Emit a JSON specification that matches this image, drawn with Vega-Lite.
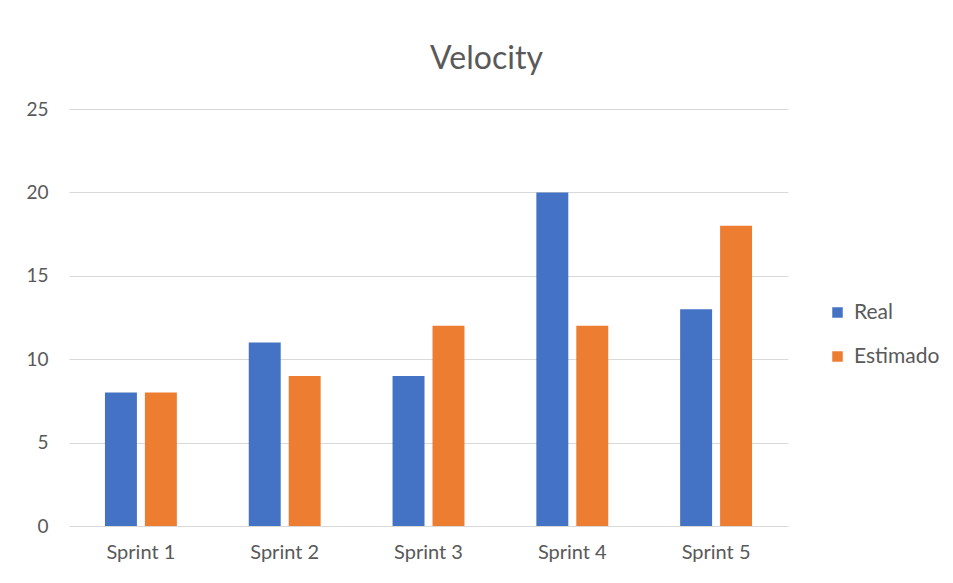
{
  "$schema": "https://vega.github.io/schema/vega-lite/v6.json",
  "autosize": "none",
  "width": 719,
  "height": 417,
  "padding": {"left": 69, "top": 109, "right": 165, "bottom": 57},
  "background": "white",
  "title": {
    "text": "Velocity",
    "fontSize": 32,
    "font": "Lato",
    "fontWeight": "normal",
    "color": "#595959",
    "anchor": "middle",
    "dx": 58,
    "offset": 24
  },
  "data": {
    "values": [
      {"sprint": "Sprint 1", "serie": "Real", "valor": 8},
      {"sprint": "Sprint 1", "serie": "Estimado", "valor": 8},
      {"sprint": "Sprint 2", "serie": "Real", "valor": 11},
      {"sprint": "Sprint 2", "serie": "Estimado", "valor": 9},
      {"sprint": "Sprint 3", "serie": "Real", "valor": 9},
      {"sprint": "Sprint 3", "serie": "Estimado", "valor": 12},
      {"sprint": "Sprint 4", "serie": "Real", "valor": 20},
      {"sprint": "Sprint 4", "serie": "Estimado", "valor": 12},
      {"sprint": "Sprint 5", "serie": "Real", "valor": 13},
      {"sprint": "Sprint 5", "serie": "Estimado", "valor": 18}
    ]
  },
  "mark": {"type": "bar"},
  "encoding": {
    "x": {
      "field": "sprint",
      "type": "nominal",
      "sort": null,
      "scale": {"paddingInner": 0.5, "paddingOuter": 0.25},
      "axis": {
        "title": null,
        "labelAngle": 0,
        "ticks": false,
        "domain": false,
        "labelPadding": 16,
        "labelFontSize": 20,
        "labelFont": "Lato",
        "labelColor": "#595959"
      }
    },
    "xOffset": {
      "field": "serie",
      "type": "nominal",
      "sort": ["Real", "Estimado"],
      "scale": {"paddingInner": 0.2, "paddingOuter": 0}
    },
    "y": {
      "field": "valor",
      "type": "quantitative",
      "scale": {"domain": [0, 25]},
      "axis": {
        "title": null,
        "values": [0, 5, 10, 15, 20, 25],
        "ticks": false,
        "domain": false,
        "labelPadding": 21,
        "labelFontSize": 19,
        "labelFont": "Lato",
        "labelColor": "#595959",
        "gridColor": "#D9D9D9",
        "gridWidth": 1.2
      }
    },
    "color": {
      "field": "serie",
      "type": "nominal",
      "sort": ["Real", "Estimado"],
      "scale": {"domain": ["Real", "Estimado"], "range": ["#4472C4", "#ED7D31"]},
      "legend": {
        "title": null,
        "orient": "none",
        "legendX": 758,
        "legendY": 193,
        "symbolType": "square",
        "symbolSize": 110,
        "symbolStrokeWidth": 0,
        "labelFontSize": 21,
        "labelFont": "Lato",
        "labelColor": "#595959",
        "rowPadding": 22,
        "labelOffset": 6
      }
    }
  },
  "config": {"view": {"stroke": null}}
}
